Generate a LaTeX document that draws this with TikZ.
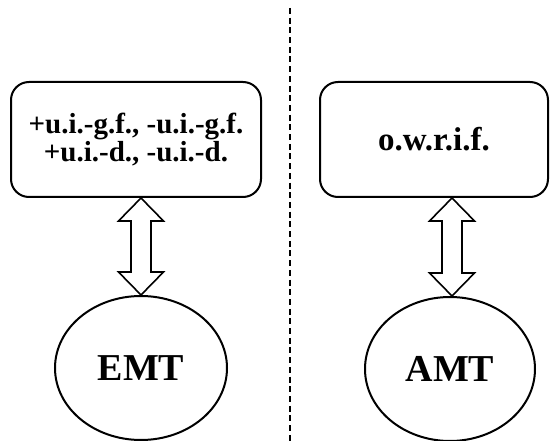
\documentclass[tikz,border=0pt]{standalone}
\usepackage{fontspec}
\setmainfont{Liberation Serif}
\usetikzlibrary{calc,shapes.geometric}
\tikzset{
  box/.style={draw, line width=2pt, rounded corners=18pt, align=center, font=\bfseries},
  oval/.style={draw, ellipse, line width=2pt, font=\bfseries\fontsize{38}{40}\selectfont, inner sep=0pt},
  arrowline/.style={draw, line width=1.6pt, line join=miter, fill=white},
  divider/.style={line width=1.8pt, dash pattern=on 6pt off 3.7pt}
}
\newcommand\twoway[2]{%
  \draw[arrowline] (#1) -- ++(22.5,23) -- ++(-12.5,0) -- ($(#2)+(10,-23)$) -- ++(12.5,0)
    -- (#2) -- ++(-22.5,-23) -- ++(12.5,0) -- ($(#1)+(-10,23)$) -- ++(-12.5,0) -- cycle;}
\begin{document}
\begin{tikzpicture}[x=1pt,y=-1pt]
\useasboundingbox (0,0) rectangle (550,441);
\node[box, minimum width=250pt, minimum height=115pt,
      font=\bfseries\fontsize{29}{26}\selectfont] (lbox) at (136,139.5)
  {+u.i.-g.f., -u.i.-g.f.\\+u.i.-d., -u.i.-d.};
\node[box, minimum width=228pt, minimum height=115pt,
      font=\bfseries\fontsize{33}{36}\selectfont] (rbox) at (434,139.5) {o.w.r.i.f.};
\node[oval, minimum width=172pt, minimum height=144pt] (emt) at (141,368) {EMT};
\node[oval, minimum width=170pt, minimum height=144pt] (amt) at (450,369) {AMT};
\coordinate (dtop) at (290,8);
\coordinate (dbot) at (290,441);
\draw[divider] (dtop) -- (dbot);
\coordinate (la) at (emt.north |- lbox.south);
\coordinate (ra) at ($(amt.north |- rbox.south)+(2,0)$);
\coordinate (lb) at (emt.north);
\coordinate (rb) at ($(amt.north)+(2,0)$);
\twoway{la}{lb}
\twoway{ra}{rb}
\end{tikzpicture}
\end{document}
